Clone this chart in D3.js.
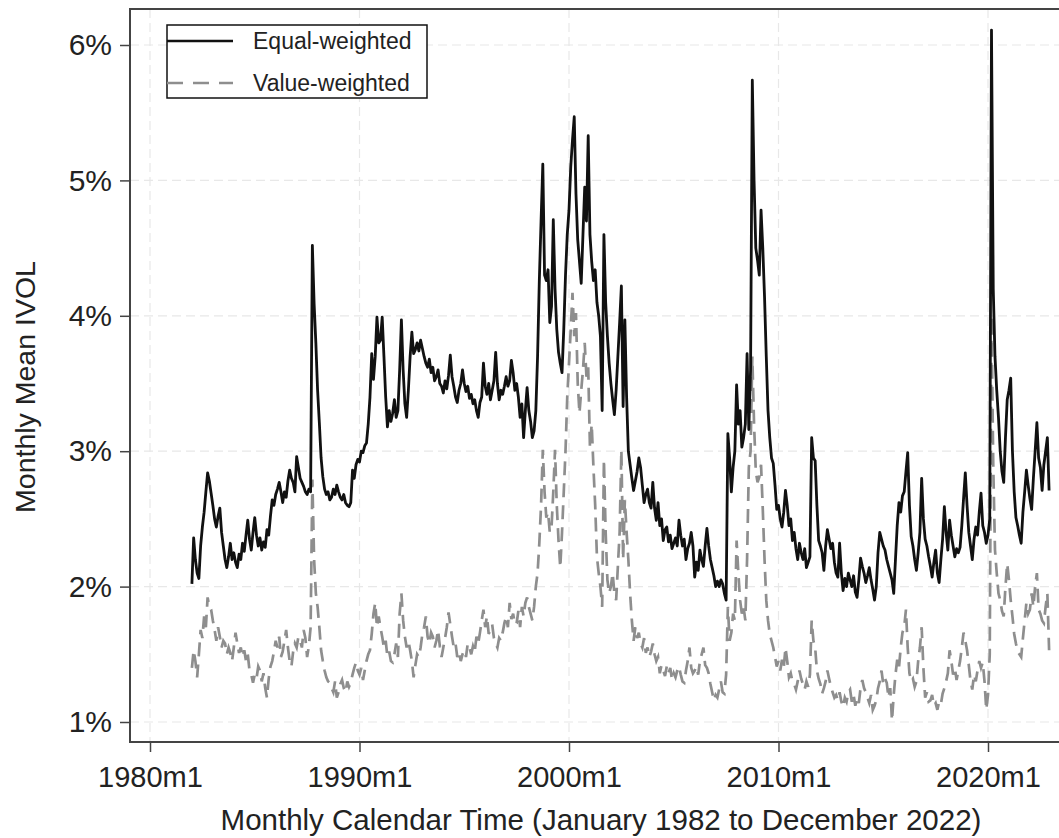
<!DOCTYPE html>
<html>
<head>
<meta charset="utf-8">
<script src="https://cdn.jsdelivr.net/npm/d3@7"></script>
<style>
  body { margin: 0; background: #fff; }
  svg { display: block; font-family: "Liberation Sans", Arial, sans-serif; }
</style>
</head>
<body>
<script>
// monthly series, January 1982 to December 2022 (one row per year)
const startYear = 1982

const equalWeighted = [
  2.02, 2.36, 2.20, 2.10, 2.06, 2.30, 2.44, 2.55, 2.70, 2.84, 2.78, 2.69, // 1982
  2.60, 2.50, 2.44, 2.52, 2.58, 2.40, 2.30, 2.20, 2.14, 2.22, 2.32, 2.20,
  2.25, 2.18, 2.14, 2.24, 2.20, 2.32, 2.26, 2.38, 2.49, 2.35, 2.27, 2.40,
  2.51, 2.38, 2.30, 2.36, 2.27, 2.33, 2.29, 2.42, 2.38, 2.52, 2.64, 2.60,
  2.68, 2.72, 2.77, 2.70, 2.62, 2.70, 2.66, 2.78, 2.86, 2.80, 2.77, 2.70,
  2.96, 2.88, 2.80, 2.77, 2.74, 2.70, 2.68, 2.72, 2.70, 4.52, 4.09, 3.80, // 1987
  3.45, 3.21, 2.95, 2.81, 2.72, 2.68, 2.70, 2.64, 2.66, 2.72, 2.68, 2.75,
  2.70, 2.66, 2.64, 2.68, 2.62, 2.60, 2.59, 2.62, 2.86, 2.80, 2.90, 2.94,
  2.92, 3.00, 2.99, 3.04, 3.06, 3.20, 3.40, 3.72, 3.53, 3.70, 3.99, 3.80, // 1990
  3.82, 3.99, 3.70, 3.40, 3.18, 3.30, 3.22, 3.28, 3.38, 3.25, 3.30, 3.60,
  3.97, 3.60, 3.35, 3.25, 3.45, 3.70, 3.88, 3.72, 3.75, 3.80, 3.74, 3.82,
  3.76, 3.70, 3.65, 3.62, 3.68, 3.58, 3.62, 3.52, 3.55, 3.60, 3.50, 3.48,
  3.43, 3.52, 3.46, 3.56, 3.71, 3.55, 3.48, 3.40, 3.36, 3.45, 3.50, 3.60,
  3.50, 3.44, 3.48, 3.39, 3.42, 3.35, 3.38, 3.30, 3.25, 3.36, 3.40, 3.65, // 1995
  3.48, 3.42, 3.50, 3.38, 3.45, 3.52, 3.73, 3.50, 3.38, 3.45, 3.42, 3.48,
  3.55, 3.48, 3.52, 3.67, 3.58, 3.45, 3.50, 3.40, 3.25, 3.35, 3.10, 3.30,
  3.47, 3.30, 3.22, 3.10, 3.15, 3.30, 3.70, 4.26, 4.70, 5.12, 4.30, 4.26,
  4.34, 3.95, 4.07, 4.71, 4.20, 3.90, 3.73, 3.65, 3.58, 3.90, 4.30, 4.60,
  4.78, 5.10, 5.30, 5.47, 4.90, 4.56, 4.40, 4.24, 4.60, 4.95, 4.70, 5.33, // 2000
  4.60, 4.40, 4.26, 4.34, 4.10, 4.00, 3.85, 3.30, 4.60, 4.10, 3.85, 3.65,
  3.50, 3.38, 3.27, 3.45, 3.70, 3.95, 4.22, 3.33, 3.97, 3.40, 3.00, 2.90,
  2.80, 2.71, 2.78, 2.85, 2.95, 2.88, 2.75, 2.62, 2.68, 2.72, 2.62, 2.58,
  2.77, 2.58, 2.49, 2.62, 2.45, 2.50, 2.34, 2.42, 2.44, 2.33, 2.38, 2.28,
  2.32, 2.36, 2.30, 2.49, 2.38, 2.30, 2.35, 2.20, 2.28, 2.32, 2.40, 2.30, // 2005
  2.07, 2.18, 2.12, 2.27, 2.20, 2.15, 2.30, 2.43, 2.30, 2.20, 2.14, 2.08,
  2.00, 2.04, 2.00, 2.05, 2.02, 1.95, 1.90, 3.13, 2.95, 2.70, 2.88, 3.00,
  3.49, 3.20, 3.30, 3.03, 3.10, 3.20, 3.72, 3.16, 3.60, 5.74, 5.00, 4.50,
  4.41, 4.30, 4.78, 4.50, 4.14, 3.70, 3.30, 3.10, 2.95, 2.91, 2.75, 2.57,
  2.60, 2.50, 2.44, 2.55, 2.71, 2.60, 2.45, 2.50, 2.34, 2.40, 2.28, 2.20, // 2010
  2.32, 2.25, 2.20, 2.28, 2.14, 2.18, 2.22, 3.10, 2.95, 2.93, 2.60, 2.34,
  2.30, 2.25, 2.12, 2.30, 2.42, 2.35, 2.28, 2.32, 2.18, 2.10, 2.07, 2.32,
  2.10, 1.97, 2.06, 2.00, 2.10, 2.05, 2.00, 2.08, 1.96, 1.92, 2.05, 2.21,
  2.15, 2.10, 2.03, 2.08, 2.14, 2.05, 1.98, 1.90, 2.00, 2.25, 2.40, 2.35,
  2.30, 2.27, 2.20, 2.15, 2.10, 2.05, 1.95, 2.20, 2.45, 2.62, 2.55, 2.67, // 2015
  2.70, 2.85, 2.99, 2.60, 2.37, 2.30, 2.20, 2.12, 2.25, 2.40, 2.80, 2.50,
  2.35, 2.30, 2.22, 2.15, 2.07, 2.18, 2.27, 2.10, 2.03, 2.20, 2.35, 2.59,
  2.40, 2.27, 2.49, 2.38, 2.30, 2.22, 2.28, 2.25, 2.29, 2.45, 2.65, 2.84,
  2.60, 2.40, 2.30, 2.20, 2.35, 2.44, 2.38, 2.55, 2.69, 2.45, 2.40, 2.32,
  2.38, 2.50, 6.11, 4.20, 3.70, 3.45, 3.25, 3.00, 2.85, 2.77, 3.10, 3.38, // 2020
  3.45, 3.54, 3.00, 2.70, 2.51, 2.45, 2.38, 2.32, 2.55, 2.70, 2.86, 2.75,
  2.65, 2.57, 2.80, 3.00, 3.21, 2.95, 2.88, 2.71, 2.90, 3.00, 3.10, 2.71
]

const valueWeighted = [
  1.40, 1.53, 1.45, 1.33, 1.50, 1.68, 1.62, 1.78, 1.70, 1.92, 1.85, 1.83, // 1982
  1.75, 1.68, 1.60, 1.70, 1.63, 1.55, 1.60, 1.58, 1.50, 1.55, 1.51, 1.45,
  1.55, 1.66, 1.58, 1.51, 1.55, 1.48, 1.53, 1.45, 1.50, 1.38, 1.35, 1.29,
  1.35, 1.32, 1.41, 1.38, 1.30, 1.36, 1.25, 1.18, 1.32, 1.41, 1.45, 1.52,
  1.60, 1.55, 1.63, 1.48, 1.52, 1.60, 1.68, 1.55, 1.45, 1.41, 1.52, 1.58,
  1.55, 1.63, 1.60, 1.55, 1.68, 1.62, 1.48, 1.56, 1.70, 2.79, 2.20, 1.95, // 1987
  1.85, 1.70, 1.53, 1.45, 1.38, 1.33, 1.30, 1.29, 1.25, 1.22, 1.30, 1.18,
  1.22, 1.28, 1.31, 1.25, 1.22, 1.30, 1.26, 1.29, 1.35, 1.40, 1.44, 1.38,
  1.35, 1.40, 1.31, 1.38, 1.45, 1.50, 1.53, 1.65, 1.80, 1.88, 1.70, 1.78, // 1990
  1.70, 1.63, 1.55, 1.60, 1.48, 1.52, 1.45, 1.44, 1.50, 1.58, 1.48, 1.80,
  1.95, 1.75, 1.63, 1.55, 1.60, 1.53, 1.45, 1.33, 1.42, 1.50, 1.48, 1.55,
  1.65, 1.70, 1.78, 1.63, 1.58, 1.66, 1.63, 1.55, 1.60, 1.68, 1.56, 1.48,
  1.55, 1.62, 1.70, 1.81, 1.72, 1.63, 1.55, 1.58, 1.48, 1.52, 1.45, 1.50,
  1.53, 1.48, 1.58, 1.55, 1.50, 1.56, 1.52, 1.63, 1.58, 1.66, 1.75, 1.83, // 1995
  1.70, 1.78, 1.65, 1.68, 1.72, 1.62, 1.58, 1.55, 1.62, 1.60, 1.66, 1.73,
  1.78, 1.70, 1.88, 1.76, 1.80, 1.72, 1.73, 1.82, 1.70, 1.85, 1.78, 1.88,
  1.92, 1.85, 1.80, 1.75, 1.85, 2.00, 2.10, 2.32, 2.60, 3.01, 2.70, 2.51,
  2.55, 2.40, 2.44, 2.70, 3.01, 2.60, 2.34, 2.14, 2.40, 2.70, 3.00, 3.40,
  3.65, 3.90, 4.17, 3.85, 4.02, 3.50, 3.28, 3.45, 3.60, 3.80, 3.55, 3.62, // 2000
  3.03, 3.20, 2.88, 2.60, 2.22, 2.10, 2.00, 1.85, 2.94, 2.40, 2.05, 1.95,
  2.00, 2.10, 1.95, 1.90, 2.15, 2.40, 3.01, 2.20, 2.64, 2.40, 2.20, 1.95,
  1.75, 1.60, 1.70, 1.62, 1.66, 1.58, 1.55, 1.62, 1.51, 1.55, 1.48, 1.52,
  1.58, 1.50, 1.45, 1.48, 1.36, 1.42, 1.38, 1.34, 1.41, 1.36, 1.40, 1.31,
  1.36, 1.33, 1.38, 1.41, 1.35, 1.30, 1.29, 1.38, 1.45, 1.55, 1.40, 1.36, // 2005
  1.38, 1.41, 1.35, 1.45, 1.50, 1.55, 1.42, 1.40, 1.36, 1.28, 1.22, 1.16,
  1.20, 1.18, 1.24, 1.30, 1.22, 1.21, 1.35, 1.85, 1.60, 1.66, 1.80, 1.75,
  2.34, 2.10, 1.90, 1.80, 1.85, 1.75, 2.20, 2.88, 3.00, 3.70, 3.20, 2.85,
  2.77, 2.81, 2.90, 2.57, 2.20, 1.90, 1.75, 1.65, 1.60, 1.55, 1.48, 1.41,
  1.45, 1.38, 1.46, 1.40, 1.55, 1.45, 1.33, 1.36, 1.30, 1.28, 1.24, 1.30, // 2010
  1.38, 1.32, 1.28, 1.24, 1.30, 1.26, 1.35, 1.75, 1.60, 1.55, 1.38, 1.32,
  1.28, 1.21, 1.25, 1.30, 1.38, 1.32, 1.26, 1.22, 1.18, 1.20, 1.16, 1.22,
  1.15, 1.11, 1.18, 1.15, 1.22, 1.24, 1.15, 1.20, 1.12, 1.18, 1.14, 1.25,
  1.31, 1.25, 1.22, 1.18, 1.14, 1.20, 1.09, 1.12, 1.16, 1.25, 1.30, 1.38,
  1.28, 1.32, 1.29, 1.18, 1.25, 1.01, 1.20, 1.35, 1.46, 1.40, 1.55, 1.66, // 2015
  1.70, 1.83, 1.55, 1.36, 1.30, 1.32, 1.26, 1.30, 1.45, 1.55, 1.70, 1.40,
  1.18, 1.22, 1.15, 1.16, 1.20, 1.12, 1.14, 1.09, 1.15, 1.13, 1.21, 1.25,
  1.30, 1.36, 1.53, 1.45, 1.35, 1.40, 1.31, 1.38, 1.45, 1.55, 1.66, 1.60,
  1.53, 1.42, 1.30, 1.24, 1.35, 1.30, 1.38, 1.45, 1.40, 1.44, 1.30, 1.09,
  1.20, 1.50, 4.00, 2.90, 2.27, 2.10, 1.95, 1.90, 1.82, 1.78, 2.00, 2.17, // 2020
  2.05, 1.90, 1.78, 1.65, 1.58, 1.52, 1.50, 1.48, 1.62, 1.75, 1.88, 1.80,
  1.83, 1.95, 1.85, 2.00, 2.10, 1.83, 1.80, 1.75, 1.73, 1.85, 1.95, 1.53
]

const yTicks = [1, 2, 3, 4, 5, 6]
const xTicks = [1980, 1990, 2000, 2010, 2020]
const xTickLabels = ['1980m1', '1990m1', '2000m1', '2010m1', '2020m1']
const seriesNames = ['Equal-weighted', 'Value-weighted']

const W = 1059, H = 838
const plot = { left: 130, top: 9, right: 1072, bottom: 742 }

const svg = d3.select('body').append('svg')
  .attr('width', W)
  .attr('height', H)

const x = d3.scaleLinear().domain([1980, 2020]).range([150, 988])
const y = d3.scaleLinear().domain([1, 6]).range([722, 45])

// grid
svg.append('g').selectAll('line.hgrid')
  .data(yTicks).join('line')
  .attr('x1', plot.left).attr('x2', plot.right)
  .attr('y1', d => y(d)).attr('y2', d => y(d))
  .attr('stroke', '#e8e8e8').attr('stroke-width', 1.2)
  .attr('stroke-dasharray', '9,5')
svg.append('g').selectAll('line.vgrid')
  .data(xTicks).join('line')
  .attr('x1', d => x(d)).attr('x2', d => x(d))
  .attr('y1', plot.top).attr('y2', plot.bottom)
  .attr('stroke', '#e8e8e8').attr('stroke-width', 1.2)
  .attr('stroke-dasharray', '9,5')

// series
const monthX = i => x(startYear + i / 12)
const line = d3.line().x((d, i) => monthX(i)).y(d => y(d))

svg.append('path')
  .datum(valueWeighted)
  .attr('d', line)
  .attr('fill', 'none')
  .attr('stroke', '#8e8e8e')
  .attr('stroke-width', 2.7)
  .attr('stroke-dasharray', '14,8')

svg.append('path')
  .datum(equalWeighted)
  .attr('d', line)
  .attr('fill', 'none')
  .attr('stroke', '#111')
  .attr('stroke-width', 2.8)
  .attr('stroke-linejoin', 'round')

// frame
svg.append('rect')
  .attr('x', plot.left).attr('y', plot.top)
  .attr('width', plot.right - plot.left).attr('height', plot.bottom - plot.top)
  .attr('fill', 'none').attr('stroke', '#444').attr('stroke-width', 2)

// axes
const yAxis = svg.append('g')
  .attr('transform', `translate(${plot.left},0)`)
  .call(d3.axisLeft(y).tickValues(yTicks).tickSize(10).tickPadding(8).tickFormat(d => d + '%'))
const xAxis = svg.append('g')
  .attr('transform', `translate(0,${plot.bottom})`)
  .call(d3.axisBottom(x).tickValues(xTicks).tickSize(10).tickPadding(14).tickFormat((d, i) => xTickLabels[i]))

;[yAxis, xAxis].forEach(g => {
  g.select('.domain').remove()
  g.selectAll('.tick line').attr('stroke', '#444').attr('stroke-width', 1.5)
  g.selectAll('.tick text')
    .attr('fill', '#222')
    .style('font-family', '"Liberation Sans", Arial, sans-serif')
})
yAxis.selectAll('.tick text').style('font-size', '30px')
xAxis.selectAll('.tick text').style('font-size', '29px')

// axis titles
svg.append('text')
  .attr('x', (plot.left + plot.right) / 2).attr('y', 830)
  .attr('text-anchor', 'middle')
  .attr('fill', '#222')
  .style('font-size', '29.5px')
  .text('Monthly Calendar Time (January 1982 to December 2022)')

svg.append('text')
  .attr('transform', 'translate(35,387) rotate(-90)')
  .attr('text-anchor', 'middle')
  .attr('fill', '#222')
  .style('font-size', '28.5px')
  .text('Monthly Mean IVOL')

// legend
const legend = svg.append('g')
legend.append('rect')
  .attr('x', 167).attr('y', 25).attr('width', 260).attr('height', 73)
  .attr('fill', '#fff').attr('stroke', '#111').attr('stroke-width', 1.5)
const legendStyle = [
  { stroke: '#111', dash: null },
  { stroke: '#8e8e8e', dash: '16,10' }
]
seriesNames.forEach((name, i) => {
  const ly = 41 + i * 42
  legend.append('line')
    .attr('x1', 167).attr('x2', 233).attr('y1', ly).attr('y2', ly)
    .attr('stroke', legendStyle[i].stroke).attr('stroke-width', 2.6)
    .attr('stroke-dasharray', legendStyle[i].dash)
  legend.append('text')
    .attr('x', 253).attr('y', ly + 8)
    .attr('fill', '#222')
    .style('font-size', '23px')
    .text(name)
})
</script>
</body>
</html>
